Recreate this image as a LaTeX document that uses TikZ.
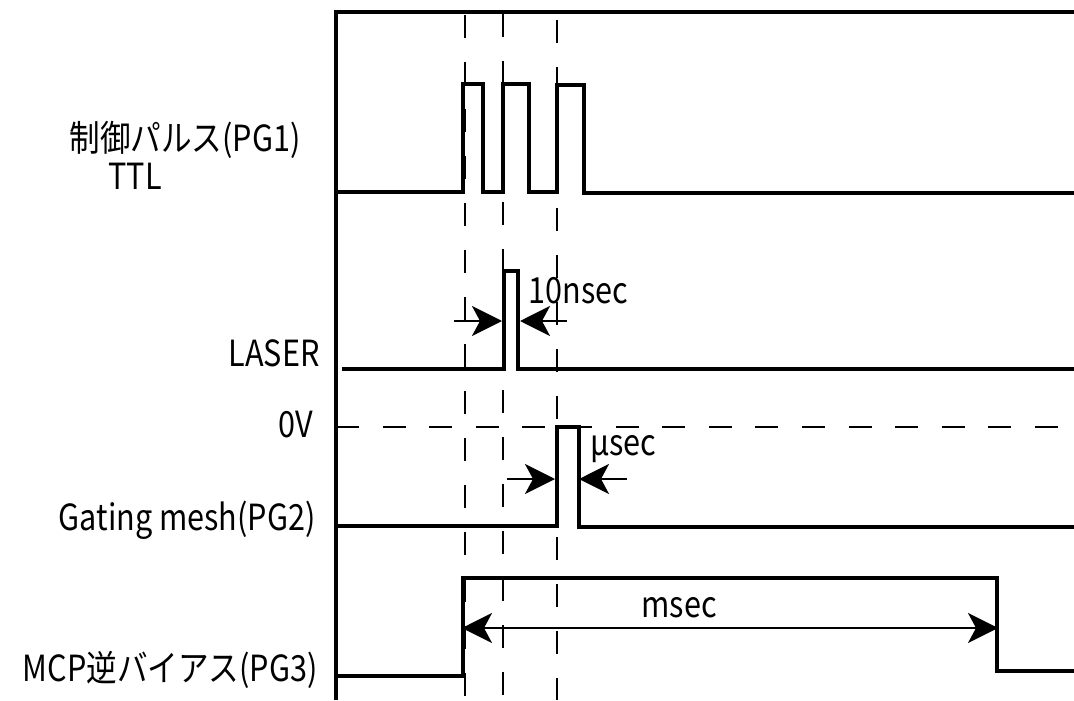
\documentclass[tikz,border=0pt]{standalone}
\usepackage{fontspec}
\setmainfont{Noto Sans CJK JP}[FakeStretch=0.85]
\usetikzlibrary{arrows.meta}
\begin{document}
\begin{tikzpicture}[x=0.5pt,y=-0.5pt,
  wave/.style={line width=1.6pt,line join=miter},
  frame/.style={line width=1.6pt},
  guide/.style={line width=1.2pt,dash pattern=on 11.5pt off 12pt},
  tip/.style={},
  dimarrow/.style={line width=1.2pt,-{Stealth[length=15pt,width=15pt,inset=4pt]}},
  dimboth/.style={line width=1.2pt,{Stealth[length=15pt,width=15pt,inset=4pt]}-{Stealth[length=15pt,width=15pt,inset=4pt]}},
  lbl/.style={inner sep=0pt,font=\fontsize{18pt}{21pt}\selectfont}]
\useasboundingbox (0,0) rectangle (1074,700);
% frame
\draw[frame] (336,700) -- (336,12) -- (1074,12);
% vertical guides
\draw[guide] (465,15) -- (465,700);
\draw[guide] (503,14) -- (503,700);
\draw[guide] (557,20) -- (557,700);
% 0V reference
\draw[guide,dash pattern=on 11.5pt off 11.8pt] (336,427) -- (1074,427);
% PG1
\draw[wave] (336,192) -- (463,192) -- (463,84) -- (483,84) -- (483,192) -- (503,192) -- (503,84) -- (529,84) -- (529,192) -- (557,192) -- (557,85) -- (584,85) -- (584,193) -- (1074,193);
% LASER
\draw[wave] (342,369) -- (504,369) -- (504,271) -- (518,271) -- (518,369) -- (1074,369);
% Gating mesh
\draw[wave] (336,526) -- (557,526) -- (557,427) -- (579,427) -- (579,527) -- (1074,527);
% MCP
\draw[wave] (336,676) -- (463,676) -- (463,578) -- (997,578) -- (997,671) -- (1074,671);
% dimension coordinates
\coordinate (la1) at (454,321); \coordinate (la2) at (502,321);
\coordinate (lb1) at (567,321); \coordinate (lb2) at (520,321);
\coordinate (ga1) at (507,479); \coordinate (ga2) at (555,479);
\coordinate (gb1) at (627,479); \coordinate (gb2) at (579,479);
\coordinate (ma) at (462,628); \coordinate (mb) at (998,628);
\draw[dimarrow] (la1) -- (la2);
\draw[dimarrow] (lb1) -- (lb2);
\draw[dimarrow] (ga1) -- (ga2);
\draw[dimarrow] (gb1) -- (gb2);
\draw[dimboth] (ma) -- (mb);
% labels
\node[lbl,anchor=base east] (pg1) at (301,152) {制御パルス(PG1)};
\node[lbl,anchor=base west] (ttl) at (108,190) {TTL};
\node[lbl,anchor=base east] (laser) at (320,366) {LASER};
\node[lbl,anchor=base east] (zero) at (313,437) {0V};
\node[lbl,anchor=base east] (pg2) at (316,530) {Gating mesh(PG2)};
\node[lbl,anchor=base east] (pg3) at (318,681) {MCP逆バイアス(PG3)};
\node[lbl,anchor=base west] (ns) at (528,303) {10nsec};
\node[lbl,anchor=base west] (us) at (590,455) {μsec};
\node[lbl,anchor=base west] (ms) at (641,617) {msec};
\end{tikzpicture}
\end{document}
